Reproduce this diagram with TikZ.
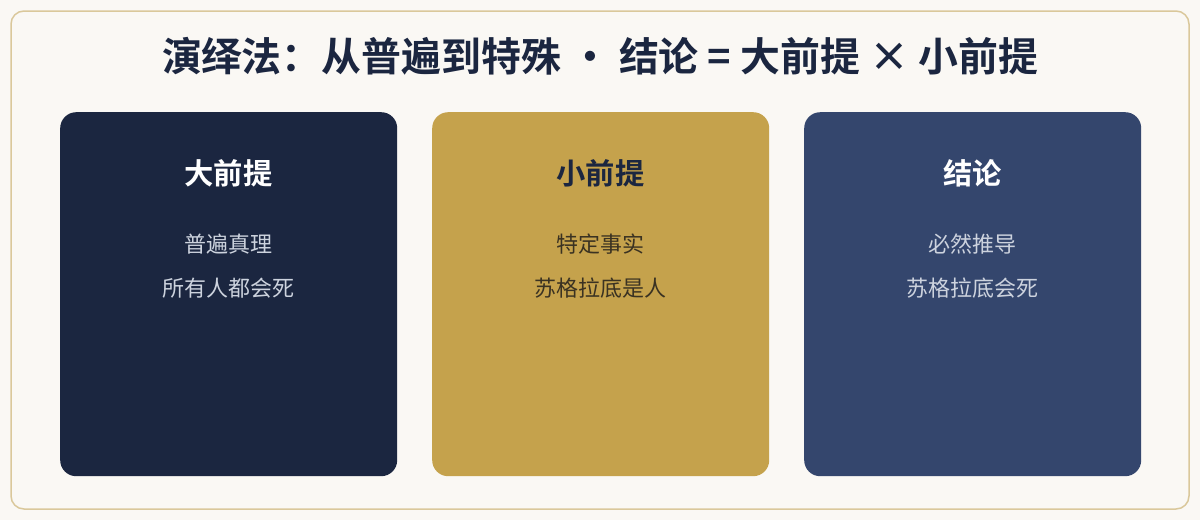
\documentclass[tikz,border=0pt]{standalone}
\usepackage{fontspec}
\setmainfont{Noto Sans CJK SC}
\newfontfamily\cjkb{Noto Sans CJK SC Bold}
\usetikzlibrary{positioning}
\definecolor{bgc}{HTML}{FAF8F4}
\definecolor{framec}{HTML}{DAC89B}
\definecolor{navy}{HTML}{1B2640}
\definecolor{gold}{HTML}{C5A24C}
\definecolor{slate}{HTML}{34466D}
\definecolor{lighttxt}{HTML}{CDD3DE}
\definecolor{browntxt}{HTML}{3A3222}
\tikzset{
  card/.style={rounded corners=16pt, inner sep=0pt, minimum width=337pt, minimum height=364pt, anchor=north west},
  cardtitle/.style={font=\cjkb\fontsize{29.3}{34}\selectfont, inner sep=0pt, anchor=center},
  cardbody/.style={font=\fontsize{22}{26}\selectfont, inner sep=0pt, anchor=center},
}
\begin{document}
\begin{tikzpicture}[x=1pt,y=-1pt]
\useasboundingbox (0,0) rectangle (1200,520);
\fill[bgc] (0,0) rectangle (1200,520);
\draw[framec, line width=1.5pt, rounded corners=13pt] (11,11) rectangle (1189,509);
\node[font=\cjkb\fontsize{39.9}{45}\selectfont, text=navy, inner sep=0pt] (title) at (600,56) {演绎法：从普遍到特殊 • 结论 = 大前提 × 小前提};
% cards
\node[card, fill=navy] (c1) at (60,112) {};
\node[card, fill=gold] (c2) at (432,112) {};
\node[card, fill=slate] (c3) at (804,112) {};
% card 1
\node[cardtitle, text=white] (t1) at (228.5,173) {大前提};
\node[cardbody, text=lighttxt] (a1) at (228.5,244) {普遍真理};
\node[cardbody, text=lighttxt] (b1) at (228.5,288) {所有人都会死};
% card 2
\node[cardtitle, text=navy] (t2) at (600.5,173) {小前提};
\node[cardbody, text=browntxt] (a2) at (600.5,244) {特定事实};
\node[cardbody, text=browntxt] (b2) at (600.5,288) {苏格拉底是人};
% card 3
\node[cardtitle, text=white] (t3) at (972.5,173) {结论};
\node[cardbody, text=lighttxt] (a3) at (972.5,244) {必然推导};
\node[cardbody, text=lighttxt] (b3) at (972.5,288) {苏格拉底会死};
\end{tikzpicture}
\end{document}
